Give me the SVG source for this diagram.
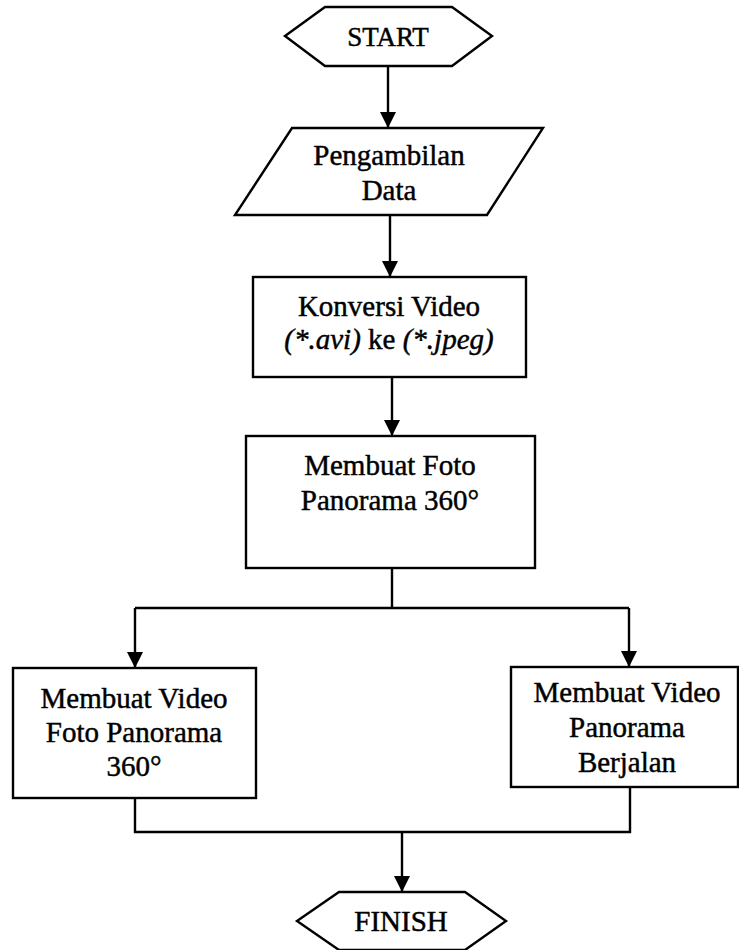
<svg xmlns="http://www.w3.org/2000/svg" width="739" height="950" viewBox="0 0 739 950">
<style>
.shape{fill:#fff;stroke:#000;stroke-width:2.4}
.conn{fill:none;stroke:#000;stroke-width:2.4}
text{font-family:"Liberation Serif","Times New Roman",serif;font-size:29px;fill:#000;stroke:#000;stroke-width:0.45;text-anchor:middle}
.it{font-style:italic}
</style>
<defs>
<marker id="arr" viewBox="0 0 16 16" refX="16" refY="8" markerWidth="16" markerHeight="16" orient="auto" markerUnits="userSpaceOnUse">
<path d="M0,0 L16,8 L0,16 z" fill="#000"/>
</marker>
</defs>
<rect width="739" height="950" fill="#fff"/>
<g id="connectors">
<path class="conn" d="M388,66 V128" marker-end="url(#arr)"/>
<path class="conn" d="M390,215 V277" marker-end="url(#arr)"/>
<path class="conn" d="M392,377 V436" marker-end="url(#arr)"/>
<path class="conn" d="M392,568 V608 M135,608 H629"/>
<path class="conn" d="M135,608 V668" marker-end="url(#arr)"/>
<path class="conn" d="M629,608 V667" marker-end="url(#arr)"/>
<path class="conn" d="M135,798 V832 H630 V787"/>
<path class="conn" d="M402,832 V892" marker-end="url(#arr)"/>
</g>
<g id="start">
<polygon class="shape" points="285,36 325,7 452,7 492,36 452,66 325,66"/>
<text x="388" y="46" style="font-size:27px">START</text>
</g>
<g id="pengambilan">
<polygon class="shape" points="292,128 543,128 487,215 235,215"/>
<text x="389" y="165">Pengambilan</text>
<text x="389" y="200">Data</text>
</g>
<g id="konversi">
<rect class="shape" x="253" y="277" width="273" height="100"/>
<text x="389" y="316">Konversi Video</text>
<text x="389" y="349"><tspan class="it">(*.avi)</tspan> ke <tspan class="it">(*.jpeg)</tspan></text>
</g>
<g id="foto">
<rect class="shape" x="246" y="436" width="289" height="132"/>
<text x="390" y="475">Membuat Foto</text>
<text x="390" y="510">Panorama 360°</text>
</g>
<g id="video-foto">
<rect class="shape" x="13" y="668" width="243" height="130"/>
<text x="134" y="708">Membuat Video</text>
<text x="134" y="742">Foto Panorama</text>
<text x="134" y="776">360°</text>
</g>
<g id="video-berjalan">
<rect class="shape" x="511" y="667" width="227" height="120"/>
<text x="627" y="702">Membuat Video</text>
<text x="627" y="737">Panorama</text>
<text x="627" y="772">Berjalan</text>
</g>
<g id="finish">
<polygon class="shape" points="297,921 339,892 465,892 506,921 465,950 339,950"/>
<text x="401" y="931">FINISH</text>
</g>
</svg>
